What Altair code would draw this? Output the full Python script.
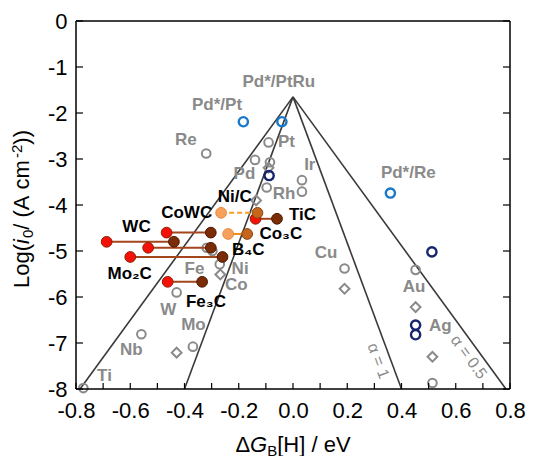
import altair as alt
import pandas as pd

# ---------------- data ----------------
APEX_X = 0.0
APEX_Y = -1.65
VOLCANO_END_X = [-0.785, -0.40, 0.40, 0.785]
VOLCANO_END_Y = [-8.0, -8.0, -8.0, -8.0]

GRAY_CIRCLE_X = [-0.32, -0.09, -0.14, -0.085, -0.097, 0.033, 0.033, -0.318, -0.297, -0.27, 0.19, 0.452, 0.514, -0.773, -0.559, -0.369, -0.429]
GRAY_CIRCLE_Y = [-2.88, -2.64, -3.02, -3.07, -3.62, -3.46, -3.71, -4.93, -5.00, -5.29, -5.38, -5.41, -7.87, -7.98, -6.81, -7.08, -5.90]

GRAY_DIAMOND_X = [-0.09, -0.136, -0.268, 0.19, 0.452, 0.514, -0.429]
GRAY_DIAMOND_Y = [-3.19, -3.90, -5.51, -5.82, -6.22, -7.30, -7.21]

BLUE_X = [-0.183, -0.041, 0.359]
BLUE_Y = [-2.19, -2.19, -3.74]

NAVY_X = [-0.088, 0.512, 0.452, 0.452]
NAVY_Y = [-3.36, -5.02, -6.61, -6.82]

# carbides: start (red) -> end (dark brown)
CARBIDE_START_X = [-0.687, -0.466, -0.534, -0.600, -0.462, -0.138]
CARBIDE_END_X = [-0.439, -0.303, -0.303, -0.260, -0.335, -0.059]
CARBIDE_Y = [-4.80, -4.60, -4.93, -5.13, -5.67, -4.30]

# Ni/C (dashed) and Co3C (solid): light orange -> orange brown
NIC_START_X = [-0.265]
NIC_END_X = [-0.131]
NIC_Y = [-4.17]
CO3C_START_X = [-0.239]
CO3C_END_X = [-0.169]
CO3C_Y = [-4.63]

CARBIDE_LABELS = ["WC", "CoWC", "Ni/C", "TiC", "Co₃C", "B₄C", "Mo₂C", "Fe₃C"]
CARBIDE_LABEL_X = [-0.577, -0.392, -0.215, 0.035, -0.045, -0.165, -0.602, -0.321]
CARBIDE_LABEL_Y = [-4.48, -4.17, -3.82, -4.22, -4.64, -4.98, -5.51, -6.11]

GRAY_LABELS = ["Pd*/PtRu", "Pd*/Pt", "Re", "Pt", "Pd", "Ir", "Rh", "Pd*/Re", "Cu", "Au", "Ag",
               "Fe", "Ni", "Co", "W", "Mo", "Nb", "Ti"]
GRAY_LABEL_X = [-0.052, -0.280, -0.395, -0.024, -0.179, 0.062, -0.033, 0.425, 0.122, 0.446, 0.543,
                -0.363, -0.195, -0.209, -0.460, -0.367, -0.596, -0.695]
GRAY_LABEL_Y = [-1.32, -1.82, -2.58, -2.63, -3.32, -3.14, -3.77, -3.31, -5.04, -5.78, -6.63,
                -5.40, -5.40, -5.74, -6.29, -6.61, -7.15, -7.71]

ALPHA_LABELS = ["α = 1", "α = 0.5"]
ALPHA_X = [0.314, 0.648]
ALPHA_Y = [-7.39, -7.31]
ALPHA_ANGLE = [70, 54]

X_TICKS = [round(-0.8 + 0.1 * i, 1) for i in range(17)]
X_LABELS = [-0.8, -0.6, -0.4, -0.2, 0.0, 0.2, 0.4, 0.6, 0.8]
Y_TICKS = [-8, -7, -6, -5, -4, -3, -2, -1, 0]
X_MIN, X_MAX, Y_MIN, Y_MAX = -0.8, 0.8, -8, 0

# ---------------- layout ----------------
W, H = 434, 368
FONT = "Liberation Sans"
GRAY = "#8a8a8a"

xs = alt.Scale(domain=[X_MIN, X_MAX], nice=False, zero=False)
ys = alt.Scale(domain=[Y_MIN, Y_MAX], nice=False, zero=False)

x_axis = alt.Axis(values=X_LABELS, ticks=False, domain=False, grid=False, title=None,
                  labelFont=FONT, labelFontSize=22, labelColor="black", labelPadding=11,
                  labelOverlap=False, labelBound=False, labelFlush=False,
                  labelExpr="datum.value < -0.001 ? '-' + format(abs(datum.value), '.1f') : format(abs(datum.value), '.1f')")
y_axis = alt.Axis(values=Y_TICKS, ticks=False, domain=False, grid=False, title=None,
                  labelFont=FONT, labelFontSize=22, labelColor="black", labelPadding=9,
                  labelOverlap=False, labelFlush=False,
                  labelExpr="datum.value < 0 ? '-' + format(abs(datum.value), 'd') : '0'")


def X(f):
    return alt.X(f, type="quantitative", scale=xs, axis=x_axis)


def Y(f):
    return alt.Y(f, type="quantitative", scale=ys, axis=y_axis)


df_v = pd.DataFrame({"x": [APEX_X] * 4, "y": [APEX_Y] * 4, "x2": VOLCANO_END_X, "y2": VOLCANO_END_Y})
volcano = alt.Chart(df_v).mark_rule(color="#3a3a3a", strokeWidth=1.6).encode(
    x=X("x"), y=Y("y"), x2="x2:Q", y2="y2:Q")

gray_c = alt.Chart(pd.DataFrame({"x": GRAY_CIRCLE_X, "y": GRAY_CIRCLE_Y})).mark_point(
    shape="circle", filled=False, color=GRAY, strokeWidth=2, size=75, opacity=1).encode(x=X("x"), y=Y("y"))
gray_d = alt.Chart(pd.DataFrame({"x": GRAY_DIAMOND_X, "y": GRAY_DIAMOND_Y})).mark_point(
    shape="diamond", filled=False, color=GRAY, strokeWidth=2, size=95, opacity=1).encode(x=X("x"), y=Y("y"))
blue_c = alt.Chart(pd.DataFrame({"x": BLUE_X, "y": BLUE_Y})).mark_point(
    shape="circle", filled=False, color="#1a78c8", strokeWidth=2.4, size=85, opacity=1).encode(x=X("x"), y=Y("y"))
navy_c = alt.Chart(pd.DataFrame({"x": NAVY_X, "y": NAVY_Y})).mark_point(
    shape="circle", filled=False, color="#16256e", strokeWidth=2.4, size=85, opacity=1).encode(x=X("x"), y=Y("y"))

df_c = pd.DataFrame({"x": CARBIDE_START_X, "x2": CARBIDE_END_X, "y": CARBIDE_Y})
carb_line = alt.Chart(df_c).mark_rule(color="#a3461c", strokeWidth=2).encode(x=X("x"), x2="x2:Q", y=Y("y"))
carb_start = alt.Chart(df_c).mark_point(shape="circle", filled=True, fill="#f51008", stroke="#8a2000",
                                        strokeWidth=1, size=115, opacity=1).encode(x=X("x"), y=Y("y"))
carb_end = alt.Chart(df_c).mark_point(shape="circle", filled=True, fill="#7a2c06", stroke="#4a1800",
                                      strokeWidth=1, size=115, opacity=1).encode(x=X("x2"), y=Y("y"))

df_n = pd.DataFrame({"x": NIC_START_X, "x2": NIC_END_X, "y": NIC_Y})
df_o = pd.DataFrame({"x": CO3C_START_X, "x2": CO3C_END_X, "y": CO3C_Y})
nic_line = alt.Chart(df_n).mark_rule(color="#f5a020", strokeWidth=2, strokeDash=[5, 3]).encode(
    x=X("x"), x2="x2:Q", y=Y("y"))
co3_line = alt.Chart(df_o).mark_rule(color="#f0901a", strokeWidth=2).encode(x=X("x"), x2="x2:Q", y=Y("y"))


def light(df):
    return alt.Chart(df).mark_point(shape="circle", filled=True, fill="#f7a05c", stroke="#e8883c",
                                    strokeWidth=1, size=115, opacity=1).encode(x=X("x"), y=Y("y"))


def orbrown(df):
    return alt.Chart(df).mark_point(shape="circle", filled=True, fill="#c4661c", stroke="#8a4410",
                                    strokeWidth=1, size=115, opacity=1).encode(x=X("x2"), y=Y("y"))


gray_txt = alt.Chart(pd.DataFrame({"x": GRAY_LABEL_X, "y": GRAY_LABEL_Y, "t": GRAY_LABELS})).mark_text(
    font=FONT, fontSize=17, fontWeight="bold", color=GRAY, align="center", baseline="middle").encode(
    x=X("x"), y=Y("y"), text="t:N")
carb_txt = alt.Chart(pd.DataFrame({"x": CARBIDE_LABEL_X, "y": CARBIDE_LABEL_Y, "t": CARBIDE_LABELS})).mark_text(
    font=FONT, fontSize=17, fontWeight="bold", color="black", align="center", baseline="middle").encode(
    x=X("x"), y=Y("y"), text="t:N")
alpha_txt = alt.Chart(pd.DataFrame({"x": ALPHA_X, "y": ALPHA_Y, "t": ALPHA_LABELS, "a": ALPHA_ANGLE})).mark_text(
    font=FONT, fontSize=16, color=GRAY, align="center", baseline="middle").encode(
    x=X("x"), y=Y("y"), text="t:N", angle=alt.Angle("a:Q", scale=None))

# frame (through the scales) and inward ticks
df_fr = pd.DataFrame({"x": [X_MIN, X_MAX, X_MIN, X_MIN], "x2": [X_MAX, X_MAX, X_MAX, X_MIN],
                      "y": [Y_MAX, Y_MAX, Y_MIN, Y_MAX], "y2": [Y_MAX, Y_MIN, Y_MIN, Y_MIN]})
frame = alt.Chart(df_fr).mark_rule(color="black", strokeWidth=1.5).encode(
    x=X("x"), x2="x2:Q", y=Y("y"), y2="y2:Q")
df_xt = pd.DataFrame({"v": X_TICKS})
df_yt = pd.DataFrame({"v": Y_TICKS})
xtick = alt.Chart(df_xt).mark_rule(color="black", strokeWidth=1.2).encode(
    x=X("v"), y=alt.value(H), y2=alt.value(H - 6))
ytick_l = alt.Chart(df_yt).mark_rule(color="black", strokeWidth=1.2).encode(
    y=Y("v"), x=alt.value(0), x2=alt.value(7))
ytick_r = alt.Chart(df_yt).mark_rule(color="black", strokeWidth=1.2).encode(
    y=Y("v"), x=alt.value(W - 7), x2=alt.value(W))


# composed axis titles
def piece(text, px, py, size=22, style="normal", angle=0):
    return alt.Chart(pd.DataFrame({"t": [text]})).mark_text(
        font=FONT, fontSize=size, fontStyle=style, color="black", align="left",
        baseline="alphabetic", angle=angle).encode(text="t:N", x=alt.value(px), y=alt.value(py))


NB = "\u00a0"
EM = 22 / 1000.0
SM = 15 / 1000.0
# x title: ΔG_B[H] / eV
xw = [668 * EM, 778 * EM, 667 * SM, 3335 * EM]
x0 = W / 2 - sum(xw) / 2
xb = H + 63
xt = [
    piece("Δ", x0, xb),
    piece("G", x0 + xw[0], xb, style="italic"),
    piece("B", x0 + xw[0] + xw[1], xb + 4, size=15),
    piece("[H]" + NB + "/" + NB + "eV", x0 + xw[0] + xw[1] + xw[2], xb),
]
# y title: Log(i0 / (A cm-2))
yw = [2001 * EM, 222 * EM + 1, 556 * SM, 3445 * EM - 4, 889 * SM, 666 * EM]
y0 = H / 2 + 4 + sum(yw) / 2
bx = -47
acc = [y0]
for w_ in yw[:-1]:
    acc.append(acc[-1] - w_)
yt = [
    piece("Log(", bx, acc[0], angle=270),
    piece("i", bx, acc[1], style="italic", angle=270),
    piece("0", bx + 4, acc[2], size=15, angle=270),
    piece(NB + "/" + NB + "(A" + NB + "cm", bx, acc[3], angle=270),
    piece("-2", bx - 7, acc[4], size=15, angle=270),
    piece("))", bx, acc[5], angle=270),
]

chart = alt.layer(
    volcano, gray_c, gray_d, blue_c, navy_c,
    carb_line, nic_line, co3_line,
    carb_start, carb_end,
    light(df_n), orbrown(df_n), light(df_o), orbrown(df_o),
    gray_txt, carb_txt, alpha_txt,
    frame, xtick, ytick_l, ytick_r,
    *xt, *yt,
).properties(
    width=W, height=H,
    autosize=alt.AutoSizeParams(type="none"),
    padding={"left": 68, "top": 13, "right": 19, "bottom": 67},
).configure_view(stroke=None).configure_text(font=FONT)

chart.save("out.html", embed_options={"renderer": "svg", "actions": False})
